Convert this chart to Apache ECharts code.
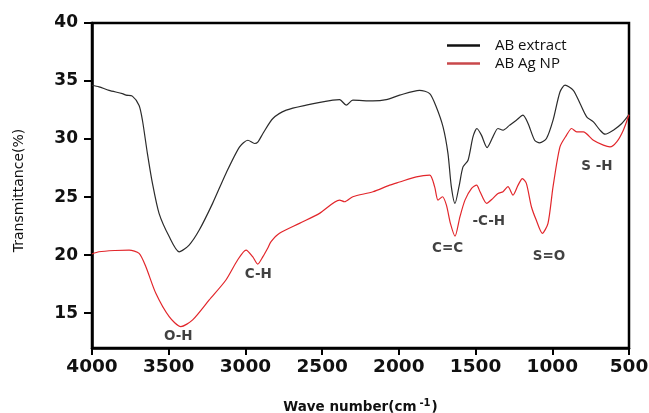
<!DOCTYPE html>
<html>
<head>
<meta charset="utf-8">
<script src="https://cdn.jsdelivr.net/npm/echarts@6/dist/echarts.min.js"></script>
<style>
  html, body { margin: 0; padding: 0; background: #fff; }
  #chart { width: 649px; height: 413px; }
</style>
</head>
<body>
<div id="chart"></div>
<script>
// wavenumber (cm-1) / transmittance (%)
const extractWave = [4000, 3954, 3889, 3802, 3778, 3737, 3693, 3671, 3639, 3606, 3563, 3497, 3432, 3367,
  3301, 3214, 3127, 3038, 2984, 2940, 2918, 2886, 2821, 2734, 2604, 2430, 2386, 2343, 2300, 2169, 2082,
  1995, 1865, 1799, 1756, 1712, 1680, 1658, 1634, 1608, 1582, 1549, 1517, 1491, 1462, 1425, 1387, 1354,
  1321, 1278, 1234, 1191, 1158, 1115, 1082, 1038, 995, 950, 917, 863, 819, 776, 732, 689, 656, 602, 547, 500];
const extractT = [34.64, 34.5, 34.2, 33.92, 33.78, 33.7, 32.9, 31.6, 28.77, 26.18, 23.6, 21.6, 20.29, 20.87,
  22.16, 24.46, 27.04, 29.33, 29.9, 29.62, 29.76, 30.48, 31.77, 32.49, 32.92, 33.35, 33.4, 32.92, 33.35, 33.29, 33.4,
  33.78, 34.2, 33.92, 32.77, 31.05, 28.77, 25.9, 24.46, 25.9, 27.6, 28.18, 30.19, 30.91, 30.34, 29.27, 30.19, 30.91,
  30.77, 31.2, 31.63, 32.06, 31.34, 29.9, 29.67, 30.05, 31.63, 34.06, 34.64, 34.2, 33.06, 31.92, 31.48, 30.77, 30.42, 30.77, 31.34, 32.1];

const npWave = [4000, 3954, 3850, 3758, 3693, 3649, 3584, 3497, 3421, 3344, 3236, 3127, 3051, 2996, 2953,
  2920, 2886, 2855, 2833, 2778, 2648, 2517, 2386, 2354, 2300, 2169, 2060, 1995, 1886, 1799, 1767, 1745,
  1716, 1690, 1664, 1634, 1602, 1569, 1526, 1493, 1471, 1428, 1387, 1354, 1321, 1289, 1256, 1223, 1195,
  1169, 1136, 1104, 1065, 1028, 995, 950, 907, 874, 841, 798, 732, 667, 624, 580, 537, 500];
const npT = [20.1, 20.29, 20.4, 20.44, 20.15, 19.0, 16.71, 14.7, 13.84, 14.42, 16.14, 17.86, 19.58, 20.44, 19.87,
  19.23, 19.87, 20.59, 21.16, 21.88, 22.74, 23.6, 24.74, 24.6, 25.03, 25.46, 26.03, 26.3, 26.75, 26.9, 25.9, 24.74,
  25.03, 24.31, 22.74, 21.64, 23.3, 24.74, 25.75, 26.03, 25.46, 24.46, 24.89, 25.32, 25.46, 25.9, 25.17, 26.03, 26.6,
  26.18, 24.17, 23.0, 21.88, 22.74, 25.9, 29.33, 30.34, 30.91, 30.62, 30.62, 29.9, 29.48, 29.33, 29.76, 30.77, 32.1];

// band assignments written on the plot
const peakNames = ['O-H', 'C-H', 'C=C', '-C-H', 'S=O', 'S -H'];
const peakWave = [3438, 2916, 1682, 1414, 1022, 709];
const peakT = [12.95, 18.29, 20.61, 22.93, 19.92, 27.67];

const yTicks = [15, 20, 25, 30, 35, 40];

const zip = (xs, ys) => xs.map((x, i) => [x, ys[i]]);
const boldFont = 'DejaVu Sans';

let chart = echarts.init(document.getElementById('chart'));

let option = {
  animation: false,
  grid: {
    left: 92, right: 20, top: 23, bottom: 65,
    outerBoundsMode: 'none',
    show: true, borderColor: '#000', borderWidth: 2.5
  },
  legend: {
    data: ['AB extract', 'AB Ag NP'],
    orient: 'vertical',
    left: 442, top: 33,
    icon: 'rect',
    itemWidth: 33, itemHeight: 2.5, itemGap: 3,
    textStyle: { fontFamily: 'Open Sans', fontSize: 15, lineHeight: 14, color: '#111', padding: [0, 0, 0, 10] }
  },
  xAxis: {
    type: 'value',
    inverse: true,
    min: 500, max: 4000, interval: 500,
    name: '{b|Wave number(cm}{s|-1}{b|)}',
    nameLocation: 'middle',
    nameGap: 50,
    nameTextStyle: {
      rich: {
        b: { fontFamily: boldFont, fontWeight: 'bold', fontSize: 13.5, color: '#111' },
        s: { fontFamily: boldFont, fontWeight: 'bold', fontSize: 10, color: '#111', verticalAlign: 'top', padding: [0, 1, 8, 3] }
      }
    },
    splitLine: { show: false },
    axisLine: { lineStyle: { color: '#000', width: 2.5 } },
    axisTick: { inside: false, length: 7, lineStyle: { color: '#000', width: 2 } },
    axisLabel: {
      formatter: v => String(v),
      fontFamily: boldFont, fontWeight: 'bold', fontSize: 18.5, color: '#111', margin: 10
    }
  },
  yAxis: {
    type: 'value',
    min: 12, max: 40,
    name: 'Transmittance(%)',
    nameLocation: 'middle',
    nameGap: 66,
    nameTextStyle: { fontFamily: 'DejaVu Sans', fontSize: 14, color: '#111', padding: [0, 10, 0, 0] },
    splitLine: { show: false },
    axisLine: { show: true, lineStyle: { color: '#000', width: 2.5 } },
    axisTick: { show: true, length: 8, customValues: yTicks, lineStyle: { color: '#000', width: 2 } },
    axisLabel: { customValues: yTicks, fontFamily: boldFont, fontWeight: 'bold', fontSize: 17, color: '#111', margin: 14 }
  },
  series: [
    {
      name: 'AB extract',
      type: 'line',
      data: zip(extractWave, extractT),
      symbol: 'none',
      smooth: 0.25,
      lineStyle: { color: '#2b2b2b', width: 1.2 },
      itemStyle: { color: '#111' }
    },
    {
      name: 'AB Ag NP',
      type: 'line',
      data: zip(npWave, npT),
      symbol: 'none',
      smooth: 0.25,
      lineStyle: { color: '#e2262b', width: 1.2 },
      itemStyle: { color: '#c9484b' }
    },
    {
      name: 'peaks',
      type: 'scatter',
      symbolSize: 0,
      data: peakNames.map((n, i) => ({ value: [peakWave[i], peakT[i]], name: n })),
      label: {
        show: true,
        position: 'inside',
        formatter: p => p.name,
        fontFamily: boldFont, fontWeight: 'bold', fontSize: 13.5, color: '#111'
      },
      silent: true
    }
  ]
};

chart.setOption(option);
</script>
</body>
</html>
